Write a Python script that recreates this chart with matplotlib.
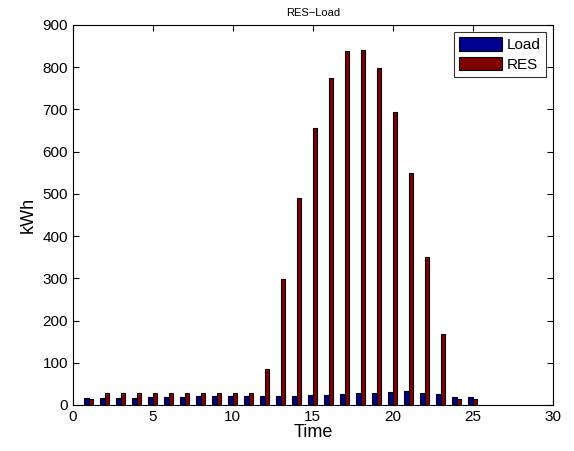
import matplotlib
matplotlib.use("Agg")
import matplotlib.pyplot as plt
import numpy as np

plt.rcParams["font.family"] = ["Liberation Sans", "DejaVu Sans"]

hours = list(range(1, 26))
load = [17, 17, 17, 17, 18, 19, 20, 21, 21, 21, 22, 22, 22, 22,
        23, 24, 27, 28, 29, 31, 32, 29, 26, 19, 18]
res = [15, 28, 28, 28, 28, 28, 28, 28, 28, 28, 28, 86, 298, 490,
       656, 773, 838, 840, 797, 693, 550, 350, 167, 15, 14]

fig = plt.figure(figsize=(5.74, 4.51), dpi=100)
ax = fig.add_axes([0.127, 0.102, 0.836, 0.843])

x = np.array(hours)
w = 0.28
ax.bar(x - w / 2, load, width=w, color="#00008F", edgecolor="black", linewidth=0.8, label="Load")
ax.bar(x + w / 2, res, width=w, color="#800000", edgecolor="black", linewidth=0.8, label="RES")

ax.set_xlim(0, 30)
ax.set_ylim(0, 900)
ax.set_xticks([0, 5, 10, 15, 20, 25, 30])
ax.set_yticks(range(0, 901, 100))
ax.tick_params(direction="in", labelsize=11, top=True, right=True, length=4)
for s in ax.spines.values():
    s.set_linewidth(0.8)

ax.set_xlabel("Time", fontsize=13, labelpad=0)
ax.set_ylabel("kWh", fontsize=13, labelpad=4)
ax.set_title("RES\u2212Load", fontsize=8, pad=6)

leg = ax.legend(loc="upper right", fontsize=11, fancybox=False, edgecolor="black",
                handlelength=2.8, handleheight=1.0, borderpad=0.35, labelspacing=0.3,
                handletextpad=0.3, borderaxespad=0.45)
leg.get_frame().set_linewidth(0.8)

fig.savefig("out.png", dpi=100)
